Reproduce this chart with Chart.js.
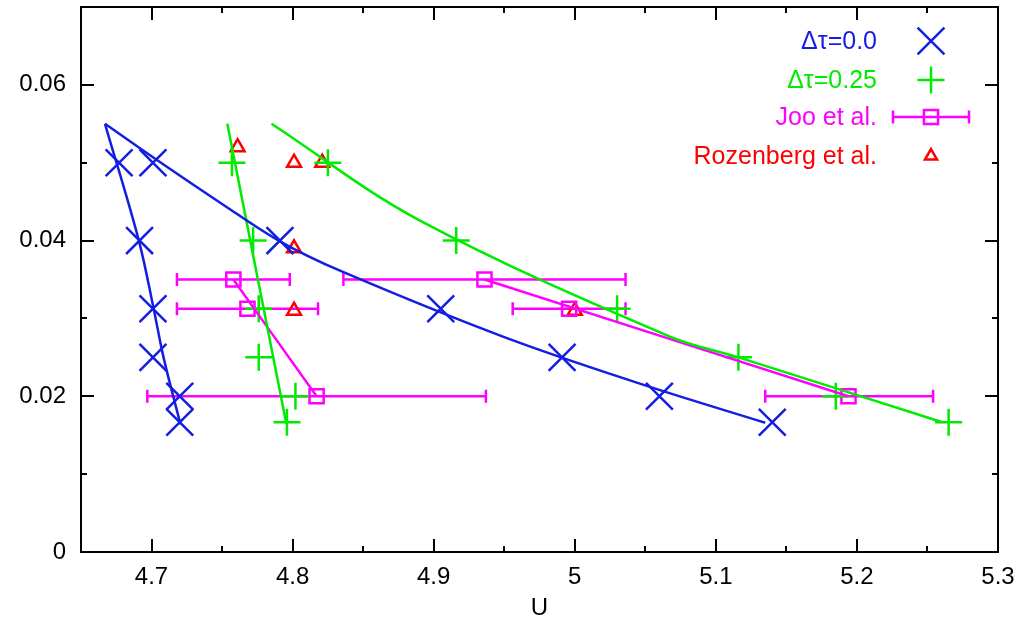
<!DOCTYPE html>
<html>
<head>
<meta charset="utf-8">
<script src="https://cdn.jsdelivr.net/npm/chart.js@4/dist/chart.umd.min.js"></script>
<style>
  body { margin: 0; background: #fff; }
  canvas { display: block; }
</style>
</head>
<body>
<canvas id="uChart" width="1029" height="627"></canvas>
<script>
// Data
const blueU = [4.677, 4.701, 4.6915, 4.701, 4.701, 4.72, 4.72, 4.791, 4.905, 4.991, 5.06, 5.14];
const blueY = [0.05, 0.05, 0.04, 0.03125, 0.025, 0.02, 0.01667, 0.04, 0.03125, 0.025, 0.02, 0.01667];

const greenU = [4.757, 4.825, 4.772, 4.916, 4.776, 5.03, 4.776, 5.116, 4.802, 5.185, 4.796, 5.265];
const greenY = [0.05, 0.05, 0.04, 0.04, 0.03125, 0.03125, 0.025, 0.025, 0.02, 0.02, 0.01667, 0.01667];

const jooU = [4.758, 4.768, 4.817, 4.936, 4.996, 5.194];
const jooY = [0.035, 0.03125, 0.02, 0.035, 0.03125, 0.02];
const jooLow = [4.718, 4.718, 4.697, 4.836, 4.956, 5.135];
const jooHigh = [4.798, 4.818, 4.937, 5.036, 5.036, 5.254];

const rozU = [4.761, 4.801, 4.821, 4.801, 4.801, 5.0];
const rozY = [0.052, 0.05, 0.05, 0.039, 0.031, 0.031];

// fitted curves
const blueFitAU = [4.667, 4.691, 4.7015, 4.7085, 4.7205];
const blueFitAY = [0.055, 0.04, 0.03125, 0.025, 0.0164];
const blueFitBU = [4.667, 4.701, 4.75, 4.791, 4.834, 4.95, 5.05, 5.135];
const blueFitBY = [0.055, 0.0507, 0.0447, 0.0399, 0.0361, 0.0276, 0.0214, 0.0166];
const greenFitAU = [4.7537, 4.7955];
const greenFitAY = [0.055, 0.0165];
const greenFitBU = [4.785, 4.889, 5.067, 5.116, 5.26];
const greenFitBY = [0.055, 0.0427, 0.0277, 0.025, 0.0167];
const jooFitAU = [4.758, 4.817];
const jooFitAY = [0.035, 0.02];
const jooFitBU = [4.936, 5.194];
const jooFitBY = [0.035, 0.02];

// axes
const xTicks = [4.7, 4.8, 4.9, 5.0, 5.1, 5.2, 5.3];
const xTickLabels = ['4.7', '4.8', '4.9', '5', '5.1', '5.2', '5.3'];
const xMinor = [4.75, 4.85, 4.95, 5.05, 5.15, 5.25];
const yTicks = [0, 0.02, 0.04, 0.06];
const yTickLabels = ['0', '0.02', '0.04', '0.06'];
const yMinor = [0.01, 0.03, 0.05];

const BLUE = 'rgb(20,30,225)';
const GREEN = 'rgb(0,235,0)';
const MAGENTA = 'rgb(255,0,255)';
const RED = 'rgb(255,0,0)';
const FONT = "'Liberation Sans', Arial, sans-serif";
const LW = 2.5;

function pts(xs, ys) {
    return xs.map((x, i) => ({ x: x, y: ys[i] }));
}

function fitLine(xs, ys, color) {
    return {
        data: pts(xs, ys),
        showLine: true,
        borderColor: color,
        borderWidth: LW,
        pointRadius: 0,
        tension: 0.35,
        fill: false,
        legendSkip: true
    };
}

const data = {
    datasets: [
        fitLine(blueFitAU, blueFitAY, BLUE),
        fitLine(blueFitBU, blueFitBY, BLUE),
        fitLine(greenFitAU, greenFitAY, GREEN),
        fitLine(greenFitBU, greenFitBY, GREEN),
        fitLine(jooFitAU, jooFitAY, MAGENTA),
        fitLine(jooFitBU, jooFitBY, MAGENTA),
        {
            label: '\u0394\u03c4=0.0',
            data: pts(blueU, blueY),
            pointStyle: 'crossRot',
            pointRadius: 19,
            borderColor: BLUE,
            pointBorderWidth: LW
        },
        {
            label: '\u0394\u03c4=0.25',
            data: pts(greenU, greenY),
            pointStyle: 'cross',
            pointRadius: 13.5,
            borderColor: GREEN,
            pointBorderWidth: LW
        },
        {
            label: 'Joo et al.',
            data: pts(jooU, jooY),
            pointStyle: 'rect',
            pointRadius: 10,
            borderColor: MAGENTA,
            backgroundColor: 'rgba(0,0,0,0)',
            pointBorderWidth: LW,
            errorBars: true
        },
        {
            label: 'Rozenberg et al.',
            data: pts(rozU, rozY),
            pointStyle: 'triangle',
            pointRadius: 8,
            borderColor: RED,
            backgroundColor: 'rgba(0,0,0,0)',
            pointBorderWidth: LW
        }
    ]
};

// horizontal error bars for Joo et al.
const errorBarPlugin = {
    id: 'errorBars',
    beforeDatasetsDraw(chart) {
        const ctx = chart.ctx;
        const xs = chart.scales.x, ys = chart.scales.y;
        ctx.save();
        ctx.strokeStyle = MAGENTA;
        ctx.lineWidth = LW;
        for (let i = 0; i < jooU.length; i++) {
            const x1 = xs.getPixelForValue(jooLow[i]);
            const x2 = xs.getPixelForValue(jooHigh[i]);
            const y = ys.getPixelForValue(jooY[i]);
            ctx.beginPath();
            ctx.moveTo(x1, y); ctx.lineTo(x2, y);
            ctx.moveTo(x1, y - 6.5); ctx.lineTo(x1, y + 6.5);
            ctx.moveTo(x2, y - 6.5); ctx.lineTo(x2, y + 6.5);
            ctx.stroke();
        }
        ctx.restore();
    }
};

// frame with inward ticks on all four sides
const framePlugin = {
    id: 'frame',
    afterDraw(chart) {
        const ctx = chart.ctx;
        const a = chart.chartArea;
        const xs = chart.scales.x, ys = chart.scales.y;
        ctx.save();
        ctx.strokeStyle = '#000';
        ctx.lineWidth = 2;
        ctx.beginPath();
        const tickX = (v, len) => {
            const px = Math.round(xs.getPixelForValue(v));
            ctx.moveTo(px, a.bottom); ctx.lineTo(px, a.bottom - len);
            ctx.moveTo(px, a.top); ctx.lineTo(px, a.top + len);
        };
        const tickY = (v, len) => {
            const py = Math.round(ys.getPixelForValue(v));
            ctx.moveTo(a.left, py); ctx.lineTo(a.left + len, py);
            ctx.moveTo(a.right, py); ctx.lineTo(a.right - len, py);
        };
        xTicks.forEach(v => tickX(v, 13));
        xMinor.forEach(v => tickX(v, 6));
        yTicks.forEach(v => tickY(v, 13));
        yMinor.forEach(v => tickY(v, 6));
        ctx.stroke();
        ctx.strokeRect(a.left, a.top, a.right - a.left, a.bottom - a.top);
        ctx.restore();
    }
};

// legend: right-aligned coloured text with a sample to its right
const legendPlugin = {
    id: 'rightLegend',
    afterDraw(chart) {
        const ctx = chart.ctx;
        const a = chart.chartArea;
        const textRight = a.right - 121;
        const symX = a.right - 67;
        const rowY = [a.top + 34, a.top + 73, a.top + 110, a.top + 149];
        const entries = chart.data.datasets.filter(d => !d.legendSkip);
        ctx.save();
        ctx.font = '25px ' + FONT;
        ctx.textAlign = 'right';
        ctx.textBaseline = 'middle';
        entries.forEach((d, i) => {
            const y = rowY[i];
            ctx.fillStyle = d.borderColor;
            ctx.fillText(d.label, textRight, y + 1);
            ctx.strokeStyle = d.borderColor;
            ctx.fillStyle = 'rgba(0,0,0,0)';
            ctx.lineWidth = LW;
            if (d.errorBars) {
                ctx.beginPath();
                ctx.moveTo(symX - 38, y); ctx.lineTo(symX + 38, y);
                ctx.moveTo(symX - 38, y - 6.5); ctx.lineTo(symX - 38, y + 6.5);
                ctx.moveTo(symX + 38, y - 6.5); ctx.lineTo(symX + 38, y + 6.5);
                ctx.stroke();
            }
            Chart.helpers.drawPoint(ctx, {
                pointStyle: d.pointStyle,
                radius: d.pointStyle === 'triangle' ? 7 : d.pointRadius,
                rotation: 0,
                borderWidth: LW
            }, symX, y);
        });
        ctx.restore();
    }
};

const config = {
    type: 'scatter',
    data: data,
    options: {
        responsive: false,
        animation: false,
        layout: { autoPadding: false, padding: { top: 7, right: 31, left: 0, bottom: 0 } },
        plugins: {
            legend: { display: false },
            tooltip: { enabled: false }
        },
        scales: {
            x: {
                type: 'linear',
                min: 4.65,
                max: 5.3,
                afterFit: s => { s.height = 75; s.paddingLeft = 0; s.paddingRight = 0; },
                afterBuildTicks: s => { s.ticks = xTicks.map(v => ({ value: v })); },
                grid: { display: false, drawTicks: false },
                border: { display: false },
                ticks: {
                    color: '#000',
                    padding: 11,
                    maxRotation: 0,
                    autoSkip: false,
                    font: { family: FONT, size: 24 },
                    callback: (v, i) => xTickLabels[i]
                },
                title: {
                    display: true,
                    text: 'U',
                    color: '#000',
                    font: { family: FONT, size: 24 },
                    padding: { top: 0, bottom: 4 }
                }
            },
            y: {
                type: 'linear',
                min: 0,
                max: 0.07,
                afterFit: s => { s.width = 81; s.paddingTop = 0; s.paddingBottom = 0; },
                afterBuildTicks: s => { s.ticks = yTicks.map(v => ({ value: v })); },
                grid: { display: false, drawTicks: false },
                border: { display: false },
                ticks: {
                    color: '#000',
                    padding: 15,
                    autoSkip: false,
                    font: { family: FONT, size: 24 },
                    callback: (v, i) => yTickLabels[i]
                }
            }
        }
    },
    plugins: [errorBarPlugin, framePlugin, legendPlugin]
};

window.onload = function() {
    const ctx = document.getElementById('uChart').getContext('2d');
    new Chart(ctx, config);
};
</script>
</body>
</html>
